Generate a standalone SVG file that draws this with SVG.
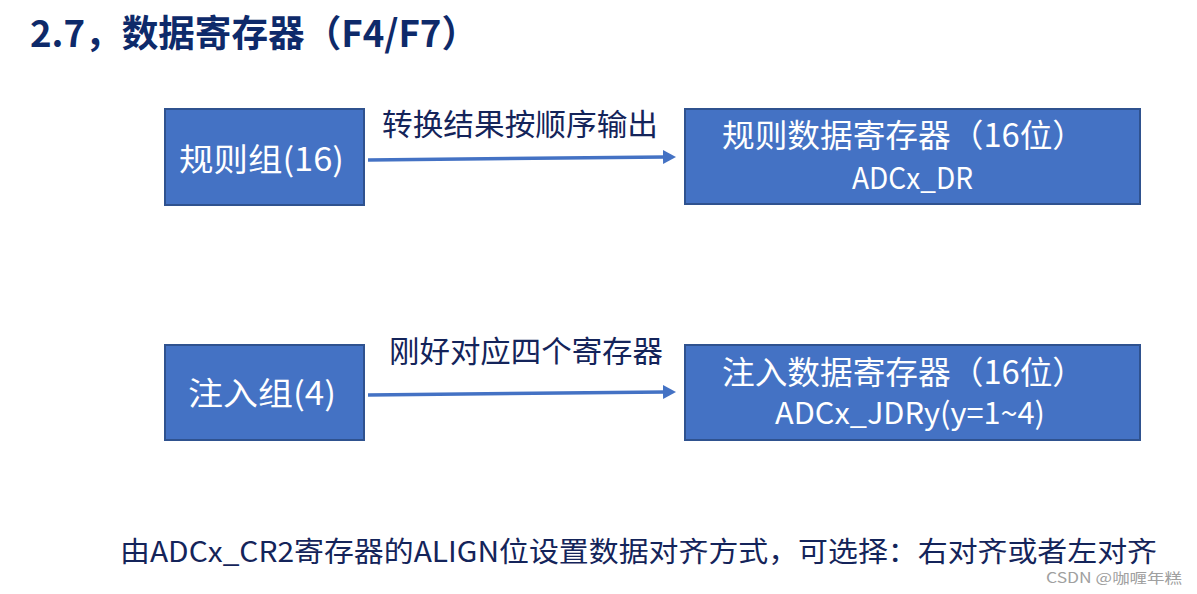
<svg xmlns="http://www.w3.org/2000/svg" width="1197" height="594" viewBox="0 0 1197 594">
  <defs>
    <style>
      .box { fill: #4472C4; stroke: #2F528F; stroke-width: 2; }
      .wt { fill: #FFFFFF; font-family: "Noto Sans CJK SC", "Noto Sans", sans-serif; }
      .lbl { fill: #14245A; font-family: "Noto Sans CJK SC", "Noto Sans", sans-serif; }
      .conn { stroke: #4472C4; stroke-width: 3.5; fill: none; }
    </style>
    <marker id="arrow" markerUnits="userSpaceOnUse" markerWidth="14" markerHeight="16" refX="2" refY="8" orient="auto">
      <path d="M0,1 L13,8 L0,15 Z" fill="#4472C4"/>
    </marker>
  </defs>
  <rect width="1197" height="594" fill="#FFFFFF"/>

  <text x="30" y="47" textLength="448" lengthAdjust="spacingAndGlyphs" font-family="Noto Sans CJK SC, Noto Sans, sans-serif" font-weight="bold" font-size="37" fill="#0E2A6A">2.7，数据寄存器（F4/F7）</text>

  <g id="connectors">
    <path class="conn" d="M368,160 L665,157" marker-end="url(#arrow)"/>
    <path class="conn" d="M368,395 L665,392" marker-end="url(#arrow)"/>
    <text class="lbl" x="382" y="135" font-size="30" textLength="276" lengthAdjust="spacingAndGlyphs">转换结果按顺序输出</text>
    <text class="lbl" x="389" y="362" font-size="30" textLength="274" lengthAdjust="spacingAndGlyphs">刚好对应四个寄存器</text>
  </g>

  <g id="regular-group">
    <rect class="box" x="165" y="109" width="199" height="96"/>
    <text class="wt" x="179" y="171" font-size="32" textLength="165" lengthAdjust="spacingAndGlyphs">规则组(16)</text>
  </g>

  <g id="regular-dr">
    <rect class="box" x="685" y="109" width="455" height="95"/>
    <text class="wt" x="722" y="147" font-size="32" textLength="363" lengthAdjust="spacingAndGlyphs">规则数据寄存器（16位）</text>
    <text class="wt" x="852" y="189" font-size="30" textLength="121" lengthAdjust="spacingAndGlyphs">ADCx_DR</text>
  </g>

  <g id="injected-group">
    <rect class="box" x="165" y="345" width="199" height="95"/>
    <text class="wt" x="188" y="405" font-size="32" textLength="148" lengthAdjust="spacingAndGlyphs">注入组(4)</text>
  </g>

  <g id="injected-dr">
    <rect class="box" x="685" y="345" width="455" height="95"/>
    <text class="wt" x="722" y="384" font-size="32" textLength="363" lengthAdjust="spacingAndGlyphs">注入数据寄存器（16位）</text>
    <text class="wt" x="775" y="424" font-size="30" textLength="270" lengthAdjust="spacingAndGlyphs">ADCx_JDRy(y=1~4)</text>
  </g>

  <text class="lbl" x="120" y="562" font-size="28" textLength="1037" lengthAdjust="spacingAndGlyphs">由ADCx_CR2寄存器的ALIGN位设置数据对齐方式，可选择：右对齐或者左对齐</text>

  <text x="1046" y="583" font-family="Noto Sans CJK SC, Noto Sans, sans-serif" font-size="14" fill="#A0A0A0" textLength="136" lengthAdjust="spacingAndGlyphs">CSDN @咖喱年糕</text>
</svg>
